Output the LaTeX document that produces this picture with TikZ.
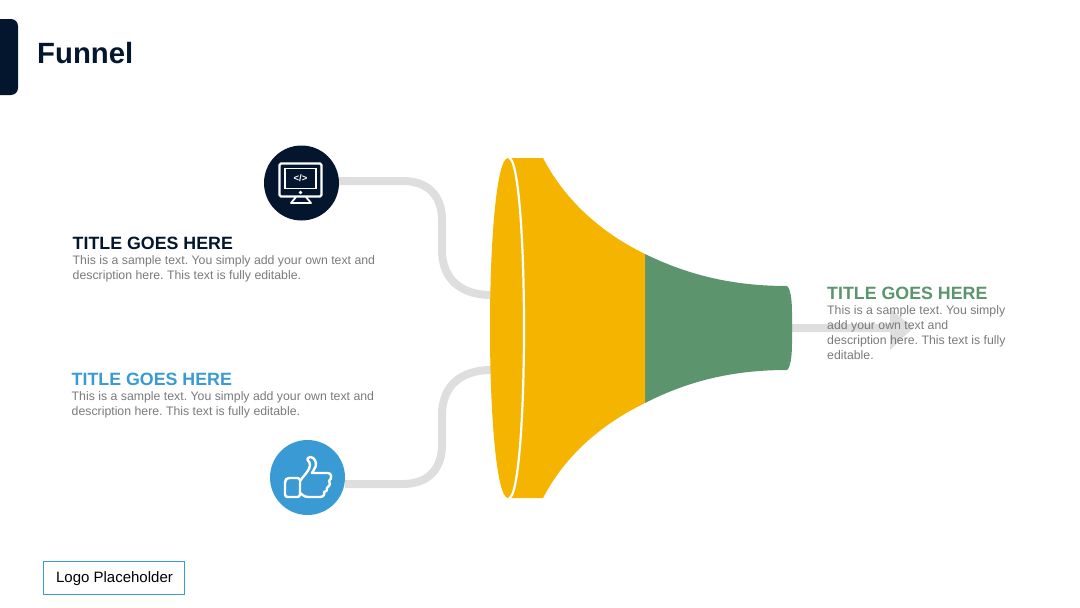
\documentclass[tikz,border=0pt]{standalone}
\usepackage{fontspec}
\setmainfont{Liberation Sans}
\usetikzlibrary{arrows.meta}
\definecolor{navy}{HTML}{03162D}
\definecolor{sky}{HTML}{3A9AD4}
\definecolor{amber}{HTML}{F5B400}
\definecolor{leaf}{HTML}{5B946D}
\definecolor{pipe}{HTML}{DEDEDE}
\definecolor{body}{HTML}{7A7A7A}
\tikzset{
  pipeline/.style={draw=pipe,line width=8pt},
  iconline/.style={draw=white,line width=2.4pt,line join=round,fill=none},
  disc/.style={circle,minimum size=75pt,inner sep=0pt},
  heading/.style={anchor=base west,font=\fontsize{17.8}{20}\selectfont\bfseries,inner sep=0pt},
  copytext/.style={anchor=north west,align=left,text=body,font=\fontsize{12.3}{15}\selectfont\frenchspacing,inner sep=0pt},
}
\begin{document}
\begin{tikzpicture}[x=1pt,y=-1pt]
\useasboundingbox (0,0) rectangle (1080,608);
% header
\fill[navy,rounded corners=7pt] (-12,19) rectangle (18,95);
\node[anchor=base west,inner sep=0pt,text=navy,font=\fontsize{29.3}{32}\selectfont\bfseries] (title) at (37,63) {Funnel};

% anchors
\coordinate (topend) at (491,295);
\coordinate (botend) at (491,370);
\coordinate (outstart) at (790,328);
\coordinate (outend) at (913,328);

% discs
\node[disc,fill=navy] (monitor) at (301.5,183) {};
\node[disc,fill=sky] (thumb) at (307.5,477.5) {};

% connectors
\draw[pipeline] (monitor.east|-0,181) -- (403,181)
  .. controls (428,181) and (442,196) .. (442,220) -- (442,250)
  .. controls (442,280) and (462,295) .. (topend);
\draw[pipeline] (thumb.east|-0,484) -- (403,484)
  .. controls (428,484) and (442,469) .. (442,445) -- (442,415)
  .. controls (442,385) and (462,370) .. (botend);

% output arrow
\fill[pipe] (outstart)++(0,-4) -- (890,324) -- (890,308) -- (outend) -- (890,350) -- (890,332) -- (790,332) -- cycle;

% funnel
\fill[leaf] (645,254) .. controls (690,276) and (735,286) .. (787,286)
  .. controls (790,288) and (792,298) .. (792,312) -- (792,344)
  .. controls (792,358) and (790,368) .. (787,370)
  .. controls (735,370) and (690,380) .. (645,403) -- cycle;
\fill[amber] (508,158) -- (543,158) .. controls (565,200) and (600,232) .. (645,254)
  -- (645,403) .. controls (600,425) and (565,456) .. (543,498) -- (508,498)
  .. controls (497,498) and (490,420) .. (490,328)
  .. controls (490,236) and (497,158) .. (508,158) -- cycle;
\draw[draw=white,line width=2.2pt] (509,158) .. controls (518,158) and (524,236) .. (524,328)
  .. controls (524,420) and (518,498) .. (509,498);

% monitor icon
\draw[iconline,rounded corners=1.5pt] (279.5,163.5) rectangle (321.5,196.5);
\draw[draw=white,line width=1.6pt] (285,168.5) rectangle (316,188.5);
\node[text=white,inner sep=0pt,font=\fontsize{9.5}{10}\selectfont\bfseries] (code) at (300.5,178.5) {</>};
\fill[white] (300.5,192.5) circle (1.8pt);
\draw[draw=white,line width=1.8pt,line join=round] (296,197) -- (291,203) -- (311,203) -- (306,197);

% thumb icon
\draw[iconline,rounded corners=2.5pt] (300,478) -- (287,478) -- (285,481) -- (285,497) -- (300,497) -- cycle;
\draw[iconline] (300,481) .. controls (305,474) and (310,470) .. (310,465)
  .. controls (310,461) and (306,460) .. (308,458)
  .. controls (311,455) and (316,459) .. (316,464)
  .. controls (316,468) and (313,470) .. (312,473)
  -- (328,473) .. controls (332,473) and (332,479) .. (329,481)
  .. controls (331,484) and (329,487) .. (327,488)
  .. controls (328,490) and (326,492) .. (324,492)
  .. controls (325,495) and (323,497) .. (320,497)
  -- (308,497) .. controls (304,497) and (302,494) .. (300,493);

% texts
\node[heading,text=navy] (t1) at (72.5,249) {TITLE GOES HERE};
\node[copytext] (d1) at (72.5,255.5) {This is a sample text. You simply add your own text and\\description here. This text is fully editable.};
\node[heading,text=sky] (t2) at (71.5,385) {TITLE GOES HERE};
\node[copytext] (d2) at (71.5,391.5) {This is a sample text. You simply add your own text and\\description here. This text is fully editable.};
\node[heading,text=leaf] (t3) at (827,299) {TITLE GOES HERE};
\node[copytext] (d3) at (827,305.5) {This is a sample text. You simply\\add your own text and\\description here. This text is fully\\editable.};

% logo
\node[draw=sky,line width=1pt,minimum width=141pt,minimum height=33pt,inner sep=0pt,text height=11pt,text depth=3pt,font=\fontsize{15}{16}\selectfont] (logo) at (114,578) {\hspace{1pt}Logo Placeholder};
\end{tikzpicture}
\end{document}
